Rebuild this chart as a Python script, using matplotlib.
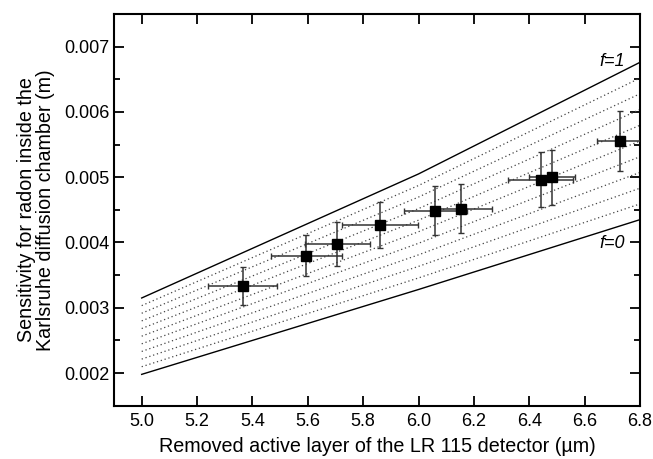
import matplotlib
matplotlib.use("Agg")
import matplotlib.pyplot as plt
import numpy as np
from matplotlib.ticker import MultipleLocator, FormatStrFormatter

plt.rcParams['font.family'] = ['Liberation Sans', 'DejaVu Sans']

# model curves (f=1 upper limit, f=0 lower limit)
curve_x = [5.0, 6.0, 6.8]
f1_y = [0.00315, 0.00505, 0.00676]
f0_y = [0.00198, 0.00328, 0.00435]
f_fracs = [0.1, 0.2, 0.3, 0.4, 0.5, 0.6, 0.7, 0.8, 0.9]

# measured points
pt_x = [5.365, 5.595, 5.707, 5.860, 6.061, 6.155, 6.441, 6.481, 6.726]
pt_y = [0.00334, 0.00380, 0.00398, 0.00427, 0.00449, 0.00452, 0.00496, 0.00500, 0.00555]
pt_xerr = [0.124, 0.128, 0.117, 0.137, 0.113, 0.110, 0.117, 0.083, 0.080]
pt_yerr = [0.00029, 0.00031, 0.00034, 0.00035, 0.00038, 0.00038, 0.00042, 0.00042, 0.00046]

fig = plt.figure(figsize=(6.53, 4.59), dpi=100)
ax = fig.add_axes([114/653, 1-405.7/459, (640-114)/653, (405.7-14)/459])

cx = np.array(curve_x)
up = np.array(f1_y)
lo = np.array(f0_y)
ax.plot(cx, up, color='black', lw=1.0)
ax.plot(cx, lo, color='black', lw=1.0)
for f in f_fracs:
    ax.plot(cx, lo + f * (up - lo), color='#444444', lw=0.9, linestyle=(0, (1, 2.2)))

ax.errorbar(pt_x, pt_y, xerr=pt_xerr, yerr=pt_yerr, fmt='s', color='black',
            ecolor='#333333', elinewidth=1.1, capsize=2.3, capthick=1.0,
            markersize=6.5, zorder=5, clip_on=True)

ax.text(6.745, 0.00678, 'f=1', style='italic', fontsize=13, ha='right', va='center')
ax.text(6.745, 0.00399, 'f=0', style='italic', fontsize=13, ha='right', va='center')

ax.set_xlim(4.9, 6.8)
ax.set_ylim(0.0015, 0.0075)
ax.xaxis.set_major_locator(MultipleLocator(0.2))
ax.yaxis.set_major_locator(MultipleLocator(0.001))
ax.yaxis.set_minor_locator(MultipleLocator(0.0005))
ax.xaxis.set_major_formatter(FormatStrFormatter('%.1f'))
ax.yaxis.set_major_formatter(FormatStrFormatter('%.3f'))
ax.tick_params(which='both', direction='in', top=True, right=True, labelsize=13, width=1.3)
ax.tick_params(which='major', length=7)
ax.tick_params(which='minor', length=4)
ax.tick_params(axis='x', pad=5)
ax.tick_params(axis='y', pad=3)
for s in ax.spines.values():
    s.set_linewidth(1.5)

ax.set_xlabel('Removed active layer of the LR 115 detector (\u00b5m)', fontsize=14.2, labelpad=5)
ax.set_ylabel('Sensitivity for radon inside the\nKarlsruhe diffusion chamber (m)', fontsize=14.2,
              labelpad=7, linespacing=0.95)

fig.savefig('out.png', dpi=100)
